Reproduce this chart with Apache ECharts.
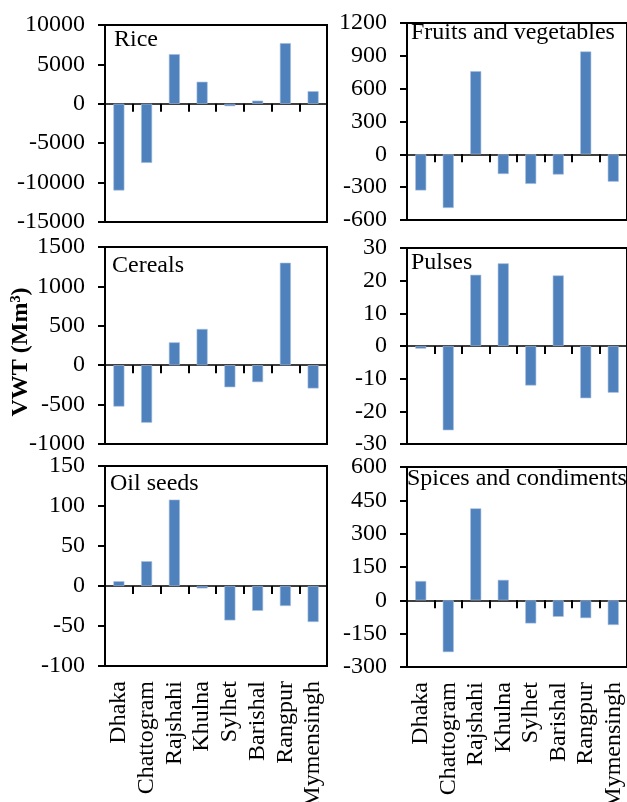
<!DOCTYPE html>
<html>
<head>
<meta charset="utf-8">
<script src="https://cdn.jsdelivr.net/npm/echarts@6/dist/echarts.min.js"></script>
<style>
html,body{margin:0;padding:0;background:#fff;}
#chart{width:627px;height:802px;}
</style>
</head>
<body>
<div id="chart"></div>
<script>
const categories = ['Dhaka','Chattogram','Rajshahi','Khulna','Sylhet','Barishal','Rangpur','Mymensingh'];
const rice = [-11000, -7500, 6300, 2800, -300, 400, 7700, 1600];
const fruitsVeg = [-330, -490, 760, -180, -270, -185, 940, -250];
const cereals = [-525, -730, 290, 460, -280, -215, 1300, -295];
const pulses = [-0.8, -25.8, 21.8, 25.3, -12.1, 21.6, -16.0, -14.3];
const oilSeeds = [6, 31, 108, -3, -43, -31, -25, -45];
const spices = [87, -233, 414, 92, -104, -74, -80, -111];
const panelTitles = ['Rice', 'Fruits and vegetables', 'Cereals', 'Pulses', 'Oil seeds', 'Spices and condiments'];
const yMins = [-15000, -600, -1000, -30, -100, -300];
const yMaxs = [10000, 1200, 1500, 30, 150, 600];
const ySteps = [5000, 300, 500, 10, 50, 150];
const yTitle = 'VWT (Mm\u00B3)';

const seriesData = [rice, fruitsVeg, cereals, pulses, oilSeeds, spices];

// layout (pixels)
const grids = [
  {left:105, top:25, width:222, height:197},
  {left:407, top:23, width:220, height:197},
  {left:105, top:247, width:222, height:197},
  {left:407, top:248, width:220, height:196},
  {left:105, top:466, width:222, height:200},
  {left:407, top:467, width:220, height:200}
];
const titlePos = [
  {left:114, top:28},
  {left:411, top:21},
  {left:112, top:254},
  {left:411, top:251},
  {left:110, top:472},
  {left:407, top:467}
];

const FONT = '"Liberation Serif", "Times New Roman", serif';
const FS = 24;

const option = {
  animation: false,
  backgroundColor: '#fff',
  title: panelTitles.map((t, i) => ({
    text: t, left: titlePos[i].left, top: titlePos[i].top, padding: 0,
    textStyle: {fontFamily: FONT, fontSize: FS, fontWeight: 'normal', color: '#000'}
  })),
  grid: grids.map(g => Object.assign({show: true, borderColor: '#000', borderWidth: 2, backgroundColor: 'transparent', containLabel: false, outerBoundsMode: 'none'}, g)),
  xAxis: [],
  yAxis: [],
  series: [],
  graphic: [{
    type: 'text', x: 21, y: 352, rotation: Math.PI / 2,
    style: {text: yTitle, fontFamily: FONT, fontSize: 24, fontWeight: 'bold', fill: '#000', align: 'center', verticalAlign: 'middle'}
  }]
};

for (let i = 0; i < 6; i++) {
  option.xAxis.push({
    type: 'category', gridIndex: i, data: categories,
    axisLine: {show: true, onZero: true, lineStyle: {color: '#000', width: 1.5}},
    axisTick: {show: true, inside: false, length: 8, interval: 0, lineStyle: {color: '#000', width: 2}},
    axisLabel: {show: false},
    splitLine: {show: false}
  });
  const xi = option.xAxis.length - 1;
  option.yAxis.push({
    type: 'value', gridIndex: i, min: yMins[i], max: yMaxs[i], interval: ySteps[i],
    axisLine: {show: true, lineStyle: {color: '#000', width: 2}},
    axisTick: {show: true, inside: false, length: 7, lineStyle: {color: '#000', width: 2}},
    axisLabel: {show: true, margin: 20, color: '#000', fontFamily: FONT, fontSize: FS, hideOverlap: false,
      formatter: v => String(v)},
    splitLine: {show: false}
  });
  option.series.push({
    type: 'bar', xAxisIndex: xi, yAxisIndex: i, data: seriesData[i],
    barWidth: 11,
    itemStyle: {color: '#4F81BD', borderColor: '#A7C0DE', borderWidth: 0.6}
  });
  if (i >= 4) {
    option.xAxis.push({
      type: 'category', gridIndex: i, data: categories, position: 'bottom',
      axisLine: {show: false, onZero: false},
      axisTick: {show: false},
      axisLabel: {show: true, interval: 0, rotate: 90, margin: 15, color: '#000', fontFamily: FONT, fontSize: FS, hideOverlap: false},
      splitLine: {show: false}
    });
  }
}

const chart = echarts.init(document.getElementById('chart'), null, {renderer: 'canvas'});
chart.setOption(option);
</script>
</body>
</html>
